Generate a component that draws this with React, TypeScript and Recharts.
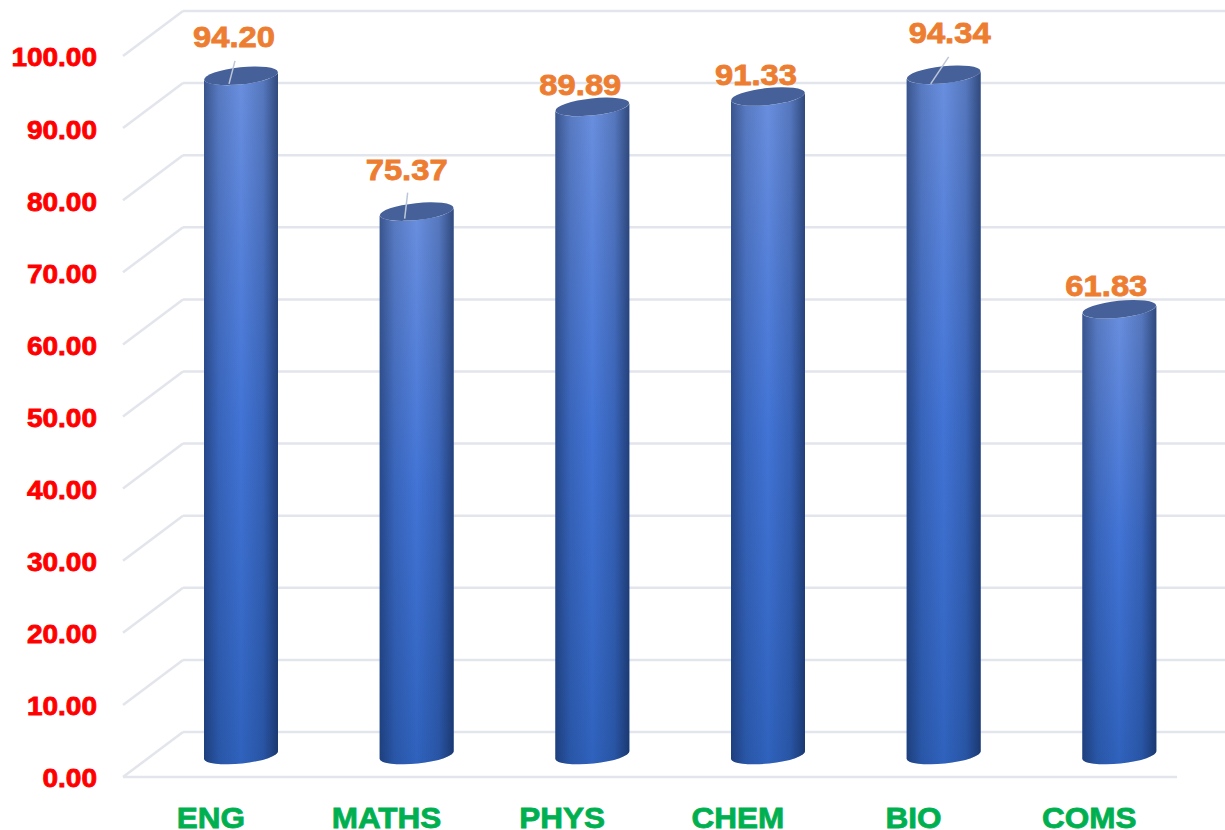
import React from 'react';
import { BarChart, Bar, XAxis, YAxis, CartesianGrid, LabelList } from 'recharts';

const categories = ['ENG', 'MATHS', 'PHYS', 'CHEM', 'BIO', 'COMS'];
const scores = [94.2, 75.37, 89.89, 91.33, 94.34, 61.83];
const yTicks = [0, 10, 20, 30, 40, 50, 60, 70, 80, 90, 100];

const chartData = categories.map((name, i) => ({ name, score: scores[i] }));

// Fake 3D depth: the back wall sits this far behind the axis plane, bars stand halfway
const DEPTH_X = 60;
const DEPTH_Y = 45;
const BAR_SHIFT_X = 30;
const BAR_SHIFT_Y = 22;
const FONT = '"Liberation Sans", Arial, sans-serif';
const GRID_COLOR = '#e3e5ec';

// Label placement per bar, measured from the bar's top on the axis plane
const labelOffsets = [
  { dx: 23, dy: -61, leader: [-5, 47, 1, 24] },
  { dx: 20, dy: -63, leader: [-2, 48, 1, 22] },
  { dx: 18, dy: -44 },
  { dx: 18, dy: -43 },
  { dx: 36, dy: -64, leader: [-19, 51, -1, 24] },
  { dx: 17, dy: -45 },
];

function GridLine({ x1, x2, y1 }: any) {
  return (
    <g stroke={GRID_COLOR} strokeWidth={2.5} fill="none">
      <line x1={x1} y1={y1} x2={x1 + DEPTH_X} y2={y1 - DEPTH_Y} />
      <line x1={x1 + DEPTH_X} y1={y1 - DEPTH_Y} x2={x2 + 48} y2={y1 - DEPTH_Y} />
    </g>
  );
}

function Cylinder({ x, y, width, height }: any) {
  const rx = width / 2;
  const ry = 8.5;
  const tilt = 4; // right rim sits higher than the left rim
  const left = x + BAR_SHIFT_X;
  const right = left + width;
  const top = y - BAR_SHIFT_Y;
  const bottom = top + height;
  const body =
    `M${left},${top + tilt} L${left},${bottom + tilt} ` +
    `A${rx},${ry} -6 0 0 ${right},${bottom - tilt} L${right},${top - tilt} ` +
    `A${rx},${ry} -6 0 1 ${left},${top + tilt} Z`;
  return (
    <g>
      <path d={body} fill="url(#barBody)" />
      <path d={body} fill="url(#barShade)" />
      <ellipse
        cx={left + rx}
        cy={top}
        rx={rx}
        ry={ry}
        fill="#46619a"
        transform={`rotate(-6 ${left + rx} ${top})`}
      />
    </g>
  );
}

function ScoreLabel({ x, y, width, value, index }: any) {
  const off = labelOffsets[index];
  const cx = x + width / 2 + off.dx;
  const cy = y + off.dy;
  return (
    <g>
      {off.leader && (
        <line
          x1={cx + off.leader[0]}
          y1={cy + off.leader[1]}
          x2={cx + off.leader[2]}
          y2={cy + off.leader[3]}
          stroke="#bcc6d8"
          strokeWidth={1.5}
        />
      )}
      <text
        transform={`translate(${cx} ${cy}) scale(1.13 1)`}
        textAnchor="middle"
        dominantBaseline="central"
        fontFamily={FONT}
        fontWeight="bold"
        fontSize={29}
        fill="#ed7d31"
        stroke="#ed7d31"
        strokeWidth={0.8}
      >
        {Number(value).toFixed(2)}
      </text>
    </g>
  );
}

function ValueTick({ x, y, payload }: any) {
  return (
    <text
      transform={`translate(${x} ${y + 2}) scale(1.12 1)`}
      textAnchor="end"
      dominantBaseline="central"
      fontFamily={FONT}
      fontWeight="bold"
      fontSize={25}
      fill="#ff0000"
      stroke="#ff0000"
      strokeWidth={0.8}
    >
      {payload.value.toFixed(2)}
    </text>
  );
}

function CategoryTick({ x, y, payload }: any) {
  return (
    <text
      transform={`translate(${x} ${y}) scale(1.05 1)`}
      textAnchor="middle"
      fontFamily={FONT}
      fontWeight="bold"
      fontSize={30}
      fill="#00b050"
      stroke="#00b050"
      strokeWidth={0.8}
    >
      {payload.value}
    </text>
  );
}

export default function App() {
  return (
    <div style={{ position: 'absolute', left: 0, top: 0, width: 1225, height: 830 }}>
      <BarChart
        width={1225}
        height={830}
        data={chartData}
        margin={{ top: 56, right: 48, bottom: 0, left: 0 }}
      >
        <defs>
          <linearGradient id="barBody" x1="0" y1="0" x2="0" y2="1">
            <stop offset="0%" stopColor="#6a8fde" />
            <stop offset="50%" stopColor="#4274d6" />
            <stop offset="100%" stopColor="#2f62bd" />
          </linearGradient>
          <linearGradient id="barShade" x1="0" y1="0" x2="1" y2="0">
            <stop offset="0%" stopColor="#0c1c3c" stopOpacity={0.5} />
            <stop offset="20%" stopColor="#0c1c3c" stopOpacity={0.18} />
            <stop offset="50%" stopColor="#0c1c3c" stopOpacity={0} />
            <stop offset="80%" stopColor="#0c1c3c" stopOpacity={0.2} />
            <stop offset="100%" stopColor="#0c1c3c" stopOpacity={0.6} />
          </linearGradient>
        </defs>
        <CartesianGrid vertical={false} horizontal={(props: any) => <GridLine key={props.key} {...props} />} />
        <XAxis
          dataKey="name"
          height={53}
          tick={<CategoryTick />}
          tickLine={false}
          tickSize={0}
          tickMargin={51}
          axisLine={{ stroke: GRID_COLOR, strokeWidth: 2.5 }}
        />
        <YAxis
          width={123}
          domain={[0, 100]}
          ticks={yTicks}
          interval={0}
          tick={<ValueTick />}
          tickLine={false}
          tickSize={0}
          tickMargin={26}
          axisLine={false}
        />
        <Bar dataKey="score" barSize={74} shape={<Cylinder />} isAnimationActive={false}>
          <LabelList dataKey="score" content={<ScoreLabel />} />
        </Bar>
      </BarChart>
    </div>
  );
}
